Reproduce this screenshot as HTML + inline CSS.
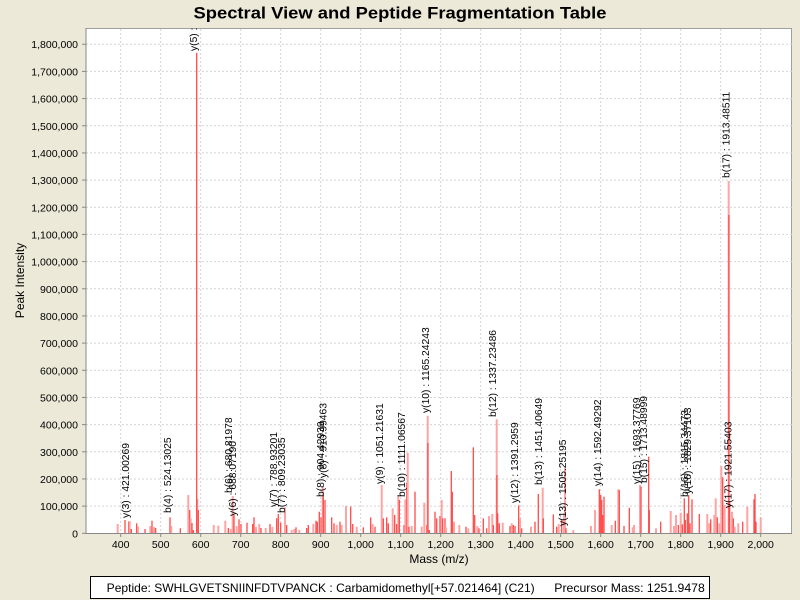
<!DOCTYPE html>
<html><head><meta charset="utf-8"><style>
html,body{margin:0;padding:0;background:#ECE9D8;}
svg{display:block;}
text{font-family:"Liberation Sans",Arial,sans-serif;fill:#000;}
</style></head><body>
<svg width="800" height="600" viewBox="0 0 800 600" xmlns="http://www.w3.org/2000/svg">
<rect x="0" y="0" width="800" height="600" fill="#ECE9D8"/>
<text x="400" y="18.5" font-size="17" font-weight="bold" text-anchor="middle" textLength="413" lengthAdjust="spacingAndGlyphs">Spectral View and Peptide Fragmentation Table</text>
<defs><clipPath id="pc"><rect x="86" y="28.5" width="706" height="505"/></clipPath></defs>
<rect x="86" y="28.5" width="705.5" height="505" fill="#fff" stroke="#a0a0a0" stroke-width="1"/>
<g id="grid" stroke="#d4d4d4" stroke-width="1" stroke-dasharray="2,2"></g>
<g id="peaks" clip-path="url(#pc)"></g>
<g id="labels" clip-path="url(#pc)" font-size="10.3"></g>
<line x1="86" y1="28" x2="86" y2="533.5" stroke="#888" stroke-width="1"/>
<line x1="86" y1="533.5" x2="792" y2="533.5" stroke="#888" stroke-width="1"/>
<g id="axes" font-size="10.5"></g>
<text x="439" y="563" font-size="12" text-anchor="middle">Mass (m/z)</text>
<text transform="translate(24,280.5) rotate(-90)" font-size="12" text-anchor="middle">Peak Intensity</text>
<rect x="90.5" y="576.5" width="619" height="22" fill="#fff" stroke="#000" stroke-width="1"/>
<text x="106.7" y="592" font-size="12" textLength="428" lengthAdjust="spacingAndGlyphs">Peptide: SWHLGVETSNIINFDTVPANCK : Carbamidomethyl[+57.021464] (C21)</text>
<text x="554.3" y="592" font-size="12" textLength="150.5" lengthAdjust="spacingAndGlyphs">Precursor Mass: 1251.9478</text>
</svg>
<script>
(function(){
var NS="http://www.w3.org/2000/svg";
function el(p,t,a,txt){var e=document.createElementNS(NS,t);for(var k in a)e.setAttribute(k,a[k]);if(txt!==undefined)e.textContent=txt;p.appendChild(e);return e;}
var grid=document.getElementById('grid'),axes=document.getElementById('axes'),pk=document.getElementById('peaks'),lb=document.getElementById('labels');
var base=533.3,step=27.17;
function fmt(n){return n.toString().replace(/\B(?=(\d{3})+(?!\d))/g,",");}
for(var k=0;k<=18;k++){var y=base-k*step;
 if(k>0)el(grid,'line',{x1:86,y1:y,x2:792,y2:y});
 el(axes,'line',{x1:82,y1:y,x2:86,y2:y,stroke:'#888','stroke-width':1});
 el(axes,'text',{x:78,y:y+4,'text-anchor':'end'},fmt(k*100000));}
for(var m=400;m<=2000;m+=100){var x=120.7+(m-400)*0.4;
 el(grid,'line',{x1:x,y1:29,x2:x,y2:533});
 el(axes,'line',{x1:x,y1:533.5,x2:x,y2:537,stroke:'#888','stroke-width':1});
 el(axes,'text',{x:x,y:548,'text-anchor':'middle'},fmt(m));}
var P=[[117.7,524,'p'],[125,520,'r'],[128.7,521.7,'r'],[129.7,521,'p'],[131.3,529,'r'],[136.7,523.3,'r'],[138,526.7,'p'],[145,529,'r'],[150.3,526,'p'],[152,520.7,'r'],[154,527,'p'],[155.7,528,'r'],[170,517.3,'r'],[171.3,526,'p'],[180.3,528.3,'r'],[188.3,495,'p'],[189.7,510,'r'],[190.7,518.3,'p'],[192,523,'r'],[193.3,530,'r'],[197.3,499,'p'],[198.3,510,'r'],[213.7,525,'p'],[218.3,525.7,'p'],[225.3,520.7,'p'],[228.3,528,'r'],[230.7,529,'p'],[232.7,496,'p'],[234,515,'r'],[236.7,526,'p'],[239,519.3,'r'],[241,524,'r'],[247,522.7,'r'],[252.7,524,'r'],[254,517.3,'r'],[256,527,'p'],[259.3,524,'p'],[261,528,'r'],
[265.7,528,'p'],[270,524,'r'],[272.3,527,'p'],[276.7,518.3,'r'],[278.3,514,'r'],[280.7,522.7,'r'],[285,507.3,'p'],[286.7,525,'r'],[291.7,530,'p'],[294.3,529,'p'],[296,527.3,'r'],[299.3,530,'p'],[306.7,528,'r'],[308.3,525,'r'],[313.3,524,'p'],[316,520.7,'r'],[317.3,521.7,'r'],[319.3,511.7,'r'],[321,517.3,'r'],[322.7,486.7,'p'],[323.3,496.7,'r'],[325,500,'r'],[331.7,517.3,'r'],[334,523.3,'r'],[336.7,525,'p'],[340,521.7,'r'],[341.7,525,'p'],[346,506,'p'],[350.7,506.7,'r'],[352.7,524,'r'],[356.7,526.7,'p'],[363.3,527.3,'r'],[370.7,517.3,'r'],[372.7,524,'p'],[375,526.7,'r'],[381.7,485,'p'],[383.3,518.3,'r'],[386.7,517.3,'r'],[388.3,523.3,'r'],[392.7,508.3,'p'],[394.7,515,'r'],[396.7,524,'r'],[398.3,495,'p'],[399.3,500,'r'],[404,525,'r'],[405.3,499.3,'p'],[406.7,482.7,'r'],[407.7,452.7,'p'],[409,526.7,'r'],[411.7,526,'p'],[415,491.7,'r'],[421.7,526.7,'p'],[424.3,502.7,'p'],[426.7,525,'r'],[427.7,415.7,'p'],[427.9,443,'r'],[429.3,530,'r'],[435,511.7,'r'],[436.7,518.3,'r'],
[440,516,'r'],[441.7,500,'p'],[442.7,518.3,'r'],[445,518.3,'r'],[446,527.3,'p'],[451.3,471,'r'],[452.3,491.7,'r'],[454,521.7,'p'],[459.3,525,'p'],[466,526.7,'r'],[468.3,528.3,'p'],[473.3,447.3,'r'],[474.7,515,'r'],[477.3,526,'p'],[479,528.3,'r'],[483.3,518.3,'r'],[486.7,528.3,'r'],[489,516,'p'],[492.3,514,'p'],[493.3,525,'r'],[496.7,419.3,'p'],[496.9,475,'r'],[497.7,513.3,'r'],[499.3,523.3,'r'],[502.7,522.7,'p'],[510,526,'r'],[511.7,523.3,'p'],[513.3,525,'r'],[515,526,'r'],[518.7,505.3,'r'],[520,518.3,'p'],[521.7,528.3,'r'],[531,526.7,'p'],[535,521.7,'r'],[538.3,494,'r'],[542.7,487.7,'p'],[543.3,518.3,'r'],[553.3,514.3,'r'],[556.7,526.7,'r'],[558.7,524,'p'],[561.7,519.3,'r'],[564,513.3,'p'],[565,468.3,'p'],[566,528.3,'r'],[573.3,530,'p'],[591,526,'p'],[595,510,'p'],[599.3,489.3,'r'],[600.7,495,'r'],[601.7,500,'r'],[602.7,515,'r'],[604,496.7,'r'],
[611.7,525,'p'],[615.3,520.7,'r'],[618.3,489.3,'p'],[619.3,490,'r'],[624,526,'r'],[629.3,507.7,'r'],[632.7,527.3,'p'],[634,525,'p'],[640,485,'p'],[641,486.7,'r'],[648.7,456.7,'r'],[649.3,510,'r'],[656,528.3,'p'],[660.7,521.7,'r'],[670.7,511,'p'],[674,526,'p'],[676,515,'p'],[678.3,525,'r'],[680.7,512.7,'p'],[682.3,524.3,'r'],[684.3,498.3,'r'],[685.3,520,'r'],[687.3,513.3,'r'],[688.7,495,'r'],[690,523.3,'r'],[692,499.3,'r'],[699.3,514,'r'],[707.3,514,'p'],[709.3,523.3,'p'],[710.7,519.3,'r'],[714.3,515,'p'],[715.7,498.3,'p'],[717.3,517.3,'r'],[719.3,523.3,'p'],[721.3,466,'p'],[722.7,477.3,'r'],[724.7,505,'p'],[728.7,181,'p'],[728.9,215,'r'],[729.7,501.7,'r'],[732,511.7,'p'],[733.3,518.3,'r'],[734.7,526.7,'p'],[738.3,523.3,'p'],[742.7,521.7,'r'],[747.3,506.7,'p'],[754,499.3,'r'],[755,494,'r'],[756,521.7,'r'],[760.7,517.3,'p'],
[196.7,52.7,'r']];
P.forEach(function(p){
 if(p[2]=='p')el(pk,'line',{x1:p[0],y1:p[1],x2:p[0],y2:533,stroke:'#ffa4a4','stroke-width':2});
 else el(pk,'line',{x1:p[0],y1:p[1],x2:p[0],y2:533,stroke:'#ff4a4a','stroke-width':1.3});
});
var L=[[197,51,'y(5) : 590.30273'],[129,518,'y(3) : 421.00269'],[171,513,'b(4) : 524.13025'],[232,493,'b(6) : 680.81978'],[236,516,'y(6) : 688.07190'],[277,507,'y(7) : 788.93201'],[285,513,'b(7) : 809.23035'],[324,497,'b(8) : 904.42939'],[326.5,478,'y(8) : 910.99463'],[383,484,'y(9) : 1051.21631'],[405,497,'b(10) : 1111.06567'],[429,413,'y(10) : 1165.24243'],[496,417,'b(12) : 1337.23486'],[518,503,'y(12) : 1391.2959'],[542,485,'b(13) : 1451.40649'],[566,526,'y(13) : 1505.25195'],[601,486,'y(14) : 1592.49292'],[640,484,'y(15) : 1693.37769'],[647,483,'b(15) : 1713.48999'],[688,497,'b(16) : 1815.34473'],[691,494,'y(16) : 1829.37103'],[731.5,508,'y(17) : 1921.55403'],[729.5,178,'b(17) : 1913.48511']];
L.forEach(function(l){el(lb,'text',{transform:'translate('+l[0]+','+l[1]+') rotate(-90)'},l[2]);});
})();
</script>
</body></html>
